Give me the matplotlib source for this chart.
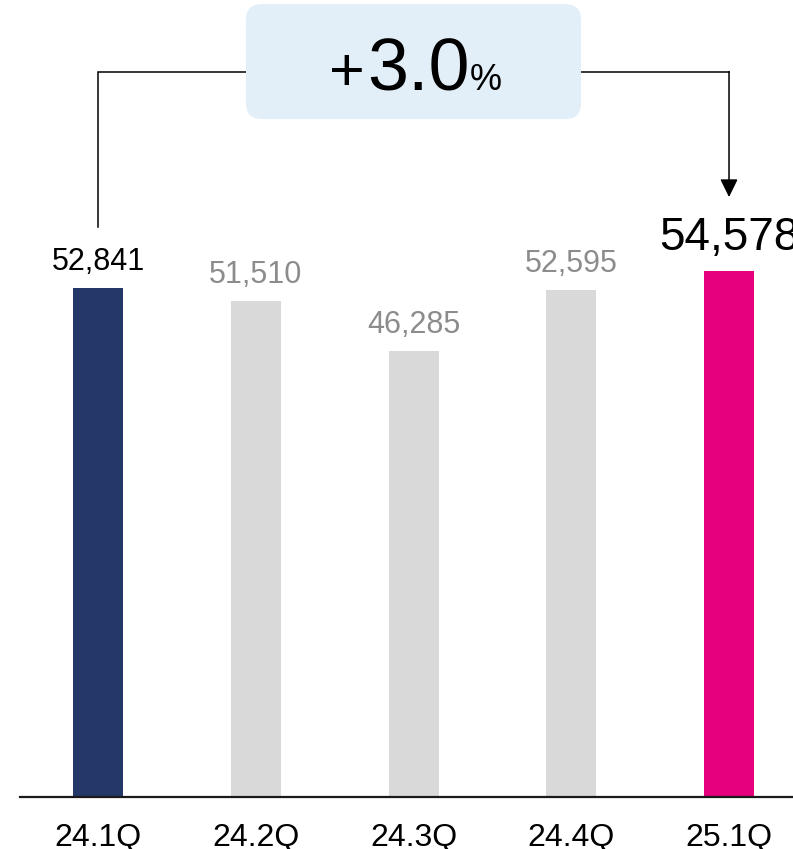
import matplotlib.pyplot as plt
from matplotlib.patches import FancyBboxPatch

plt.rcParams['font.family'] = ['Liberation Sans', 'DejaVu Sans']

# 데이터
quarters = ['24.1Q', '24.2Q', '24.3Q', '24.4Q', '25.1Q']
values = [52841, 51510, 46285, 52595, 54578]
growth_label = '3.0'

bar_colors = ['#233869', '#d9d9d9', '#d9d9d9', '#d9d9d9', '#e6007e']
label_colors = ['#000000', '#8c8c8c', '#8c8c8c', '#8c8c8c', '#000000']
label_sizes = [22, 22, 22, 22, 33]

fig = plt.figure(figsize=(7.93, 8.49), dpi=100)
ax = fig.add_axes([20 / 793, 52 / 849, 773 / 793, 797 / 849])

x = list(range(len(quarters)))
ax.bar(x, values, width=0.317, color=bar_colors, zorder=2)

# 값 라벨
for i, v in enumerate(values):
    ax.annotate(f'{v:,}', xy=(i, v), xytext=(0, 18 if i < 4 else 21),
                textcoords='offset pixels', ha='center', va='baseline',
                fontsize=label_sizes[i], color=label_colors[i],
                annotation_clip=False)

ax.set_xlim(-0.4945, 4.4056)
ax.set_ylim(0, 82740)

ax.set_xticks(x, labels=quarters, fontsize=23)
ax.tick_params(axis='x', length=0, pad=18.5)
ax.set_yticks([])
for s in ['top', 'right', 'left']:
    ax.spines[s].set_visible(False)
ax.spines['bottom'].set_linewidth(1.6)
ax.spines['bottom'].set_color('#1a1a1a')

# 증감률 박스
box_x0, box_x1 = 0.938, 3.062
box_y0, box_y1 = 70376, 82313
box = FancyBboxPatch((box_x0, box_y0), box_x1 - box_x0, box_y1 - box_y0,
                     boxstyle='round,pad=0,rounding_size=0.1',
                     mutation_aspect=16375, fc='#e2eff8', ec='none', zorder=3)
ax.add_patch(box)

y_line = 75253
ax.plot([0, 0, box_x0], [59166, y_line, y_line], color='black', lw=1.1,
        solid_joinstyle='miter', zorder=1)
ax.plot([box_x1, 4], [y_line, y_line], color='black', lw=1.1, zorder=1)
ax.annotate('', xy=(4, 62280), xytext=(4, y_line + 60),
            arrowprops=dict(arrowstyle='-|>,head_length=0.55,head_width=0.27',
                            mutation_scale=20, lw=1.1, color='black',
                            shrinkA=0, shrinkB=0))

y_base = 73387
ax.text(2.0285, y_base, growth_label, ha='center', va='baseline',
        fontsize=53, color='black', zorder=4)
ax.text(1.6925, y_base, '+', ha='right', va='baseline',
        fontsize=44, color='black', zorder=4)
ax.text(2.358, y_base, '%', ha='left', va='baseline',
        fontsize=26, color='black', zorder=4)

fig.savefig('out.png', dpi=100)
